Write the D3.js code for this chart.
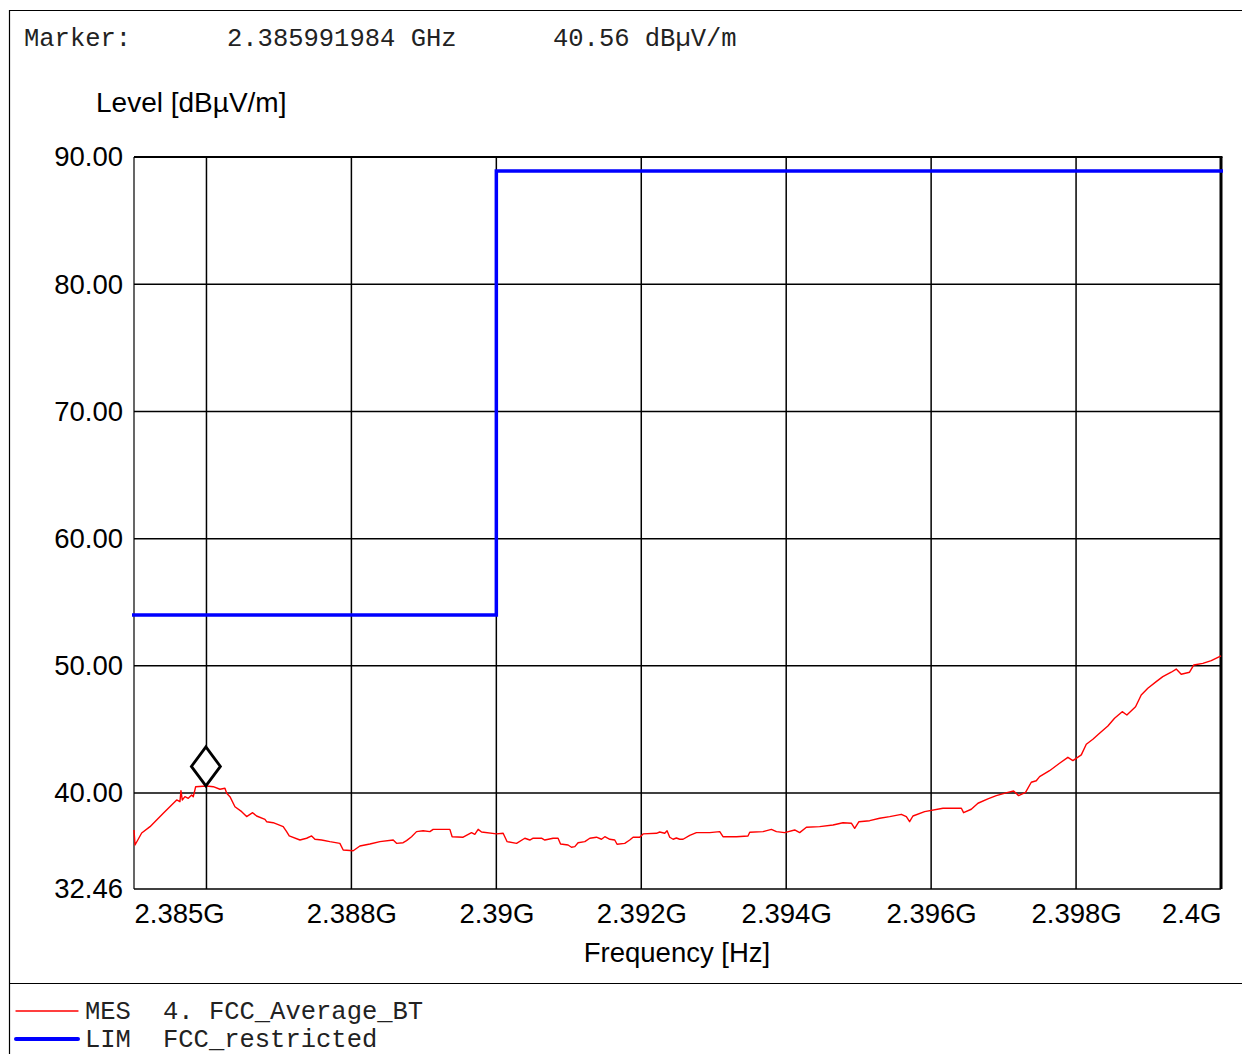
<!DOCTYPE html>
<html><head><meta charset="utf-8">
<script src="https://cdn.jsdelivr.net/npm/d3@7"></script>
<style>html,body{margin:0;padding:0;background:#fff;}svg{display:block;}</style>
</head><body>
<script>
// ---- data ----
const freqMHz = [2385.000,2385.014,2385.106,2385.221,2385.404,2385.589,2385.634,2385.648,2385.666,2385.703,2385.749,2385.796,2385.818,2385.851,2386.003,2386.094,2386.186,2386.255,2386.279,2386.324,2386.393,2386.486,2386.554,2386.637,2386.692,2386.807,2386.830,2386.921,2387.059,2387.106,2387.142,2387.290,2387.382,2387.451,2387.497,2387.589,2387.703,2387.841,2387.887,2388.025,2388.117,2388.255,2388.393,2388.577,2388.623,2388.714,2388.761,2388.830,2388.899,2388.990,2389.083,2389.128,2389.359,2389.390,2389.542,2389.658,2389.703,2389.749,2389.796,2390.003,2390.094,2390.149,2390.279,2390.393,2390.462,2390.508,2390.623,2390.669,2390.783,2390.852,2390.886,2390.990,2391.037,2391.083,2391.128,2391.221,2391.290,2391.382,2391.451,2391.497,2391.566,2391.634,2391.666,2391.772,2391.841,2391.887,2391.979,2392.025,2392.210,2392.255,2392.324,2392.356,2392.393,2392.439,2392.485,2392.531,2392.577,2392.669,2392.761,2392.945,2393.083,2393.128,2393.313,2393.473,2393.497,2393.680,2393.796,2393.865,2393.979,2394.117,2394.186,2394.279,2394.462,2394.646,2394.783,2394.899,2394.945,2395.004,2395.152,2395.290,2395.428,2395.589,2395.658,2395.703,2395.749,2395.910,2396.163,2396.417,2396.448,2396.554,2396.646,2396.783,2396.899,2397.059,2397.138,2397.207,2397.303,2397.382,2397.451,2397.497,2397.634,2397.772,2397.887,2397.956,2398.072,2398.141,2398.232,2398.324,2398.439,2398.531,2398.637,2398.701,2398.821,2398.899,2398.990,2399.106,2399.197,2399.313,2399.382,2399.451,2399.566,2399.625,2399.749,2399.866,2399.979,2400.000];
const levelDb = [37.10,35.92,36.86,37.36,38.41,39.46,39.32,40.19,39.46,39.72,39.59,39.85,39.72,40.50,40.56,40.50,40.30,40.38,39.98,39.72,38.93,38.54,38.15,38.46,38.20,37.94,37.75,37.67,37.36,36.97,36.63,36.31,36.45,36.63,36.37,36.31,36.18,36.05,35.53,35.47,35.84,36.00,36.18,36.31,36.05,36.10,36.26,36.57,36.97,37.04,36.97,37.15,37.15,36.57,36.53,36.89,36.76,37.15,36.94,36.79,36.84,36.18,36.05,36.45,36.31,36.45,36.45,36.31,36.45,36.45,36.00,35.92,35.74,35.79,36.10,36.18,36.45,36.53,36.37,36.57,36.37,36.31,35.98,36.05,36.31,36.53,36.53,36.79,36.84,36.94,36.84,37.04,36.53,36.37,36.47,36.37,36.37,36.68,36.89,36.89,36.97,36.57,36.57,36.63,36.92,36.97,37.15,36.97,36.89,37.10,36.89,37.31,37.36,37.49,37.67,37.63,37.23,37.75,37.83,38.02,38.15,38.33,38.15,37.75,38.20,38.54,38.81,38.81,38.46,38.73,39.20,39.54,39.80,40.06,40.16,39.80,40.06,40.85,40.97,41.29,41.76,42.34,42.81,42.55,43.00,43.84,44.23,44.70,45.27,45.88,46.40,46.14,46.79,47.71,48.24,48.76,49.15,49.50,49.75,49.34,49.50,50.07,50.20,50.41,50.72,50.78];
const limitFreqMHz = [2385, 2390, 2390, 2400];
const limitDb = [54.0, 54.0, 88.9, 88.9];
const markerFreqMHz = 2385.991984;
const markerDb = 40.56;
const yTickVals = [90, 80, 70, 60, 50, 40, 32.46];
const yTickLabels = ["90.00","80.00","70.00","60.00","50.00","40.00","32.46"];
const yGridVals = [80, 70, 60, 50, 40];
const xTickVals = [2385, 2388, 2390, 2392, 2394, 2396, 2398, 2400];
const xTickLabels = ["2.385G","2.388G","2.39G","2.392G","2.394G","2.396G","2.398G","2.4G"];
const xGridVals = [2386, 2388, 2390, 2392, 2394, 2396, 2398];
const markerText = ["Marker:", "2.385991984 GHz", "40.56 dBµV/m"];
const legendCodes = ["MES", "LIM"];
const legendNames = ["4. FCC_Average_BT", "FCC_restricted"];

// ---- drawing ----
const W = 1242, H = 1054;
const L = 134, R = 1221, T = 157, B = 889;
const svg = d3.select("body").append("svg").attr("width", W).attr("height", H);
const x = d3.scaleLinear().domain([2385, 2400]).range([L, R]);
const y = d3.scaleLinear().domain([32.46, 90]).range([B, T]);
const sans = "Liberation Sans, Arial, sans-serif";
const mono = "Liberation Mono, Courier New, monospace";

// outer frame
svg.append("path").attr("d", `M9.5,${H} V10.5 H${W}`).attr("fill","none").attr("stroke","#000").attr("stroke-width",1.2);
svg.append("line").attr("x1",9).attr("x2",W).attr("y1",983.5).attr("y2",983.5).attr("stroke","#000").attr("stroke-width",1.2);

// marker text
const mx = [24, 227, 553];
markerText.forEach((t,i)=>{
  svg.append("text").attr("x",mx[i]).attr("y",46).attr("font-family",mono).attr("font-size",25.5).attr("fill","#222").text(t);
});

// y title
svg.append("text").attr("x",96).attr("y",112).attr("font-family",sans).attr("font-size",28).attr("fill","#000").text("Level [dBµV/m]");

// grid
const g = svg.append("g");
g.selectAll(".vg").data(xGridVals).join("line")
  .attr("x1",d=>x(d)).attr("x2",d=>x(d)).attr("y1",T).attr("y2",B)
  .attr("stroke","#000").attr("stroke-width",1.5);
g.selectAll(".hg").data(yGridVals).join("line")
  .attr("x1",L).attr("x2",R).attr("y1",d=>y(d)).attr("y2",d=>y(d))
  .attr("stroke","#000").attr("stroke-width",1.5);

// frame
svg.append("line").attr("x1",L).attr("x2",L).attr("y1",T).attr("y2",B).attr("stroke","#000").attr("stroke-width",1.2);
svg.append("line").attr("x1",L).attr("x2",R).attr("y1",B).attr("y2",B).attr("stroke","#000").attr("stroke-width",1.3);
svg.append("line").attr("x1",L).attr("x2",R+1.5).attr("y1",T).attr("y2",T).attr("stroke","#000").attr("stroke-width",2);
svg.append("line").attr("x1",R).attr("x2",R).attr("y1",T).attr("y2",B).attr("stroke","#000").attr("stroke-width",3);

// axes labels via d3 axes (no domain/ticks lines)
const yAxis = svg.append("g").attr("transform",`translate(${L},0)`)
  .call(d3.axisLeft(y).tickValues(yTickVals).tickFormat((d,i)=>yTickLabels[i]).tickSize(0).tickPadding(11));
yAxis.select(".domain").remove();
yAxis.selectAll("text").attr("font-family",sans).attr("font-size",27.5).attr("fill","#000");

const xAxis = svg.append("g").attr("transform",`translate(0,${B})`)
  .call(d3.axisBottom(x).tickValues(xTickVals).tickFormat((d,i)=>xTickLabels[i]).tickSize(0).tickPadding(14));
xAxis.select(".domain").remove();
xAxis.selectAll("text").attr("font-family",sans).attr("font-size",27.5).attr("fill","#000")
  .attr("text-anchor",(d,i)=> i===0 ? "start" : (i===xTickVals.length-1 ? "end" : "middle"));

svg.append("text").attr("x",677).attr("y",962).attr("text-anchor","middle").attr("font-family",sans).attr("font-size",27.5).attr("fill","#000").text("Frequency [Hz]");

// limit line
const lim = limitFreqMHz.map((f,i)=>[f, limitDb[i]]);
svg.append("path").datum(lim)
  .attr("d", d3.line().x(d=>x(d[0])).y(d=>y(d[1])))
  .attr("fill","none").attr("stroke","#0000ff").attr("stroke-width",3.5);
svg.append("line").attr("x1",x(2385)-2).attr("x2",x(2385)).attr("y1",y(limitDb[0])).attr("y2",y(limitDb[0])).attr("stroke","#0000ff").attr("stroke-width",3.5);
svg.append("line").attr("x1",x(2400)).attr("x2",x(2400)+2).attr("y1",y(limitDb[3])).attr("y2",y(limitDb[3])).attr("stroke","#0000ff").attr("stroke-width",3.5);

// measurement trace
const mes = freqMHz.map((f,i)=>[f, levelDb[i]]);
svg.append("path").datum(mes)
  .attr("d", d3.line().x(d=>x(d[0])).y(d=>y(d[1])))
  .attr("fill","none").attr("stroke","#ff0000").attr("stroke-width",1.4).attr("stroke-linejoin","round");

// marker diamond
const mxp = x(markerFreqMHz), myp = y(markerDb);
svg.append("path")
  .attr("d", `M${mxp},${myp} L${mxp+14.5},${myp-19.5} L${mxp},${myp-39} L${mxp-14.5},${myp-19.5} Z`)
  .attr("fill","#fff").attr("stroke","#000").attr("stroke-width",2.8).attr("stroke-linejoin","miter");

// legend
const legColors = ["#ff0000","#0000ff"], legW = [1.3, 4], legY = [1011, 1039];
legendCodes.forEach((c,i)=>{
  svg.append("line").attr("x1",16).attr("x2",78).attr("y1",legY[i]).attr("y2",legY[i])
    .attr("stroke",legColors[i]).attr("stroke-width",legW[i]).attr("stroke-linecap","round");
  svg.append("text").attr("x",85).attr("y",legY[i]+8).attr("font-family",mono).attr("font-size",25.5).attr("fill","#222").text(c);
  svg.append("text").attr("x",163).attr("y",legY[i]+8).attr("font-family",mono).attr("font-size",25.5).attr("fill","#222").text(legendNames[i]);
});
</script>
</body></html>
